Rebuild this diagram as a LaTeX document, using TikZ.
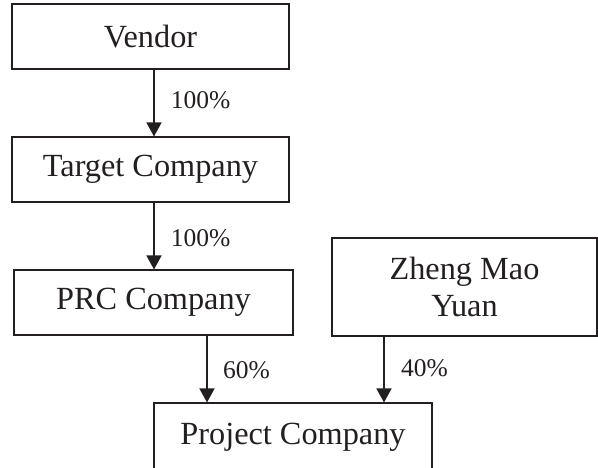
\documentclass[tikz,border=0pt]{standalone}
\usepackage{fontspec}
\setmainfont{Liberation Serif}
\usetikzlibrary{arrows.meta}
\definecolor{ink}{HTML}{231F20}
\begin{document}
\begin{tikzpicture}[x=1pt,y=-1pt,
  boxnode/.style={draw=ink,line width=1.1pt,inner sep=0pt,text=ink,
    font=\fontsize{32.3}{37}\selectfont,align=center},
  pct/.style={inner sep=0pt,text=ink,font=\fontsize{25.5}{30}\selectfont},
  arr/.style={draw=ink,line width=1.6pt,-{Triangle[width=15pt,length=14pt]}}]
\useasboundingbox (0,0) rectangle (598,467);
\node[boxnode,minimum width=277pt,minimum height=65pt] (vendor) at (150.5,36.5) {Vendor};
\node[boxnode,minimum width=277pt,minimum height=65pt] (target) at (150.5,169.5) {Target Company};
\node[boxnode,minimum width=279pt,minimum height=65pt] (prc) at (153.5,302.5) {PRC Company};
\node[boxnode,minimum width=265pt,minimum height=98pt] (zheng) at (464.5,287) {Zheng Mao\\Yuan};
\node[boxnode,minimum width=278pt,minimum height=68pt] (project) at (293,437) {Project Company};
\coordinate (ax1) at (154,0);
\coordinate (ax3) at (207,0);
\coordinate (ax4) at (384,0);
\draw[arr] (vendor.south -| ax1) -- (target.north -| ax1);
\draw[arr] (target.south -| ax1) -- (prc.north -| ax1);
\draw[arr] (prc.south -| ax3) -- (project.north -| ax3);
\draw[arr] (zheng.south -| ax4) -- (project.north -| ax4);
\node[pct] (l1) at (200.5,100) {100\%};
\node[pct] (l2) at (200.5,238) {100\%};
\node[pct] (l3) at (246.5,370) {60\%};
\node[pct] (l4) at (424.5,368) {40\%};
\end{tikzpicture}
\end{document}
